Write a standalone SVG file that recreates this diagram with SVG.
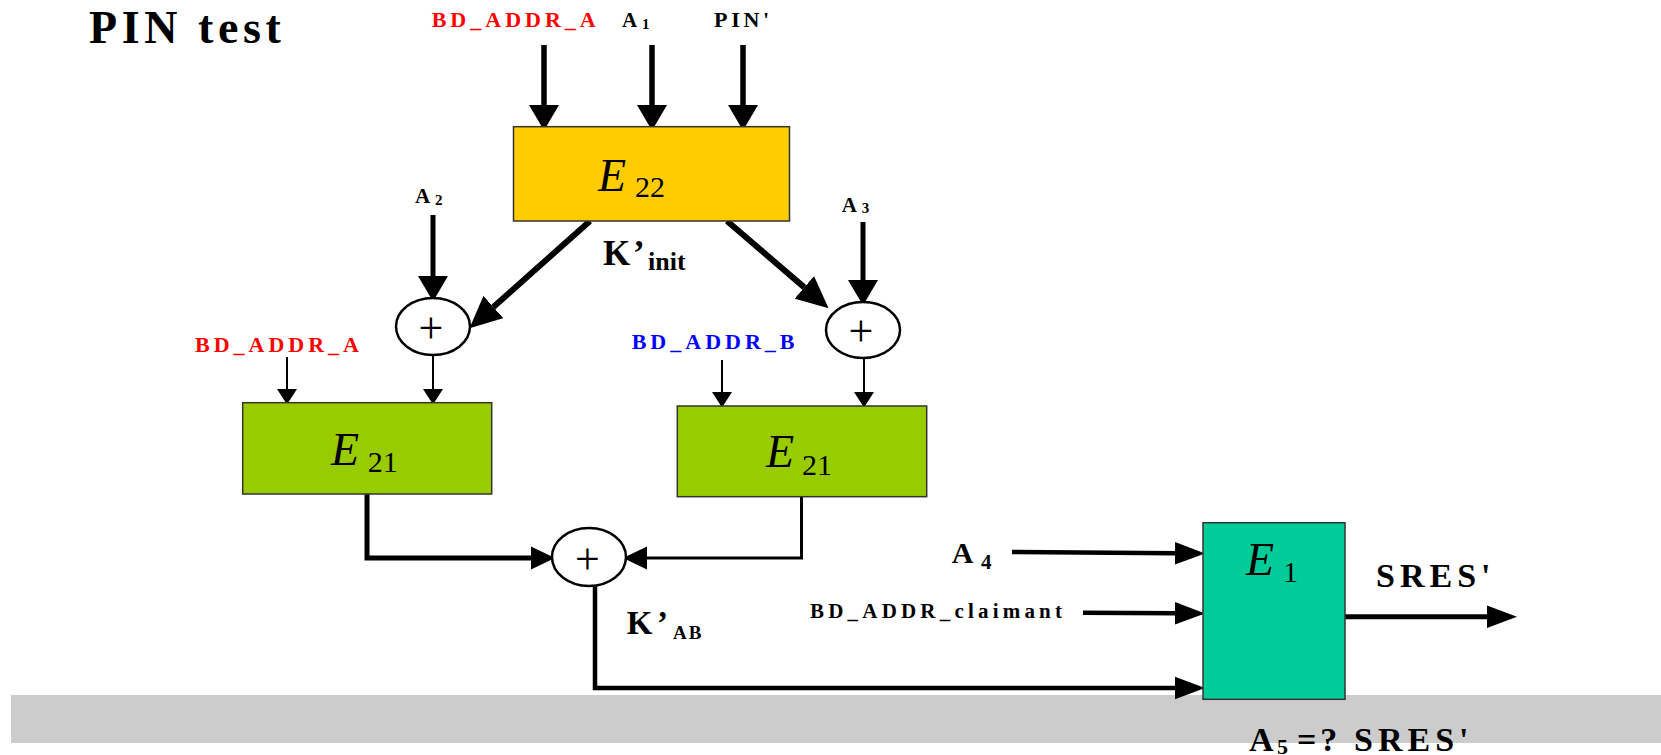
<svg xmlns="http://www.w3.org/2000/svg" width="1661" height="755" viewBox="0 0 1661 755">
<style>
text{font-family:"Liberation Serif","Times New Roman",serif;fill:#000}
.b{font-weight:bold}
.lab{font-weight:bold;font-size:22px;letter-spacing:4px}
.red{fill:#FF0000}
.blue{fill:#0000FF}
.ei{font-style:italic;font-size:46px}
.sub{font-size:30px}
.plus{font-size:44px;text-anchor:middle}
.box{stroke:#333;stroke-width:1.5}
.ring{fill:#fff;stroke:#000;stroke-width:2.5}
.c{fill:none;stroke:#000;stroke-linejoin:miter}
</style>
<defs>
<marker id="big" markerUnits="userSpaceOnUse" markerWidth="30" markerHeight="30" refX="0" refY="13" orient="auto" viewBox="0 0 22 26"><path d="M0,0 L22,13 L0,26 z" fill="#000"/></marker>
<marker id="diag" markerUnits="userSpaceOnUse" markerWidth="32" markerHeight="30" refX="0" refY="14" orient="auto" viewBox="0 0 30 28"><path d="M0,0 L30,14 L0,28 z" fill="#000"/></marker>
<marker id="thin" markerUnits="userSpaceOnUse" markerWidth="16" markerHeight="20" refX="0" refY="9" orient="auto" viewBox="0 0 14 18"><path d="M0,0 L14,9 L0,18 z" fill="#000"/></marker>
<marker id="med" markerUnits="userSpaceOnUse" markerWidth="24" markerHeight="24" refX="0" refY="10.5" orient="auto" viewBox="0 0 22 21"><path d="M0,0 L22,10.5 L0,21 z" fill="#000"/></marker>
<marker id="e1" markerUnits="userSpaceOnUse" markerWidth="30" markerHeight="24" refX="0" refY="10.5" orient="auto" viewBox="0 0 28 21"><path d="M0,0 L28,10.5 L0,21 z" fill="#000"/></marker>
</defs>

<rect id="band" x="11" y="695" width="1650" height="48" fill="#CCCCCC"/>

<text class="b" x="89" y="42.7" font-size="46" letter-spacing="4.6">PIN test</text>

<g id="connectors">
<line class="c" x1="544" y1="45" x2="544" y2="105" stroke-width="5.5" marker-end="url(#big)"/>
<line class="c" x1="652" y1="45" x2="652" y2="105" stroke-width="5.5" marker-end="url(#big)"/>
<line class="c" x1="743" y1="45" x2="743" y2="105" stroke-width="5.5" marker-end="url(#big)"/>
<line class="c" x1="433" y1="215" x2="433" y2="276" stroke-width="5" marker-end="url(#big)"/>
<line class="c" x1="863" y1="222" x2="863" y2="280" stroke-width="5" marker-end="url(#big)"/>
<line class="c" x1="590" y1="221" x2="493.4" y2="307" stroke-width="6" marker-end="url(#diag)"/>
<line class="c" x1="727" y1="221" x2="804.3" y2="287.4" stroke-width="6" marker-end="url(#diag)"/>
<line class="c" x1="287" y1="357" x2="287" y2="389" stroke-width="2" marker-end="url(#thin)"/>
<line class="c" x1="433" y1="355" x2="433" y2="389" stroke-width="2" marker-end="url(#thin)"/>
<line class="c" x1="722" y1="360" x2="722" y2="392" stroke-width="2" marker-end="url(#thin)"/>
<line class="c" x1="864" y1="358" x2="864" y2="392" stroke-width="2" marker-end="url(#thin)"/>
<path class="c" d="M367,494 V558 H531" stroke-width="5" marker-end="url(#med)"/>
<path class="c" d="M801.5,497 V558 H647" stroke-width="3" marker-end="url(#med)"/>
<path class="c" d="M595,582 V688 H1175" stroke-width="4.5" marker-end="url(#e1)"/>
<line class="c" x1="1012" y1="552" x2="1175" y2="553.3" stroke-width="4.5" marker-end="url(#e1)"/>
<line class="c" x1="1083" y1="612.7" x2="1175" y2="613.3" stroke-width="4.5" marker-end="url(#e1)"/>
<line class="c" x1="1345" y1="616.7" x2="1487" y2="616.7" stroke-width="5" marker-end="url(#e1)"/>
</g>

<g id="E22">
<rect class="box" x="513.5" y="126.7" width="276" height="94.3" fill="#FFCC00" stroke-width="1"/>
<text x="598" y="190.7"><tspan class="ei">E</tspan><tspan class="sub" x="635" y="196.7">22</tspan></text>
</g>

<g id="xorL">
<ellipse class="ring" cx="433" cy="326.5" rx="37" ry="28.5"/>
<text class="plus" x="431" y="343">+</text>
</g>
<g id="xorR">
<ellipse class="ring" cx="863" cy="330" rx="37" ry="28"/>
<text class="plus" x="861" y="346">+</text>
</g>

<g id="E21L">
<rect class="box" x="242.7" y="402.7" width="249" height="91.3" fill="#99CC00"/>
<text x="331" y="465"><tspan class="ei" font-size="45">E</tspan><tspan class="sub" x="367.7" y="471.7">21</tspan></text>
</g>
<g id="E21R">
<rect class="box" x="677.3" y="406" width="249.4" height="90.7" fill="#99CC00"/>
<text x="766" y="467"><tspan class="ei" font-size="45">E</tspan><tspan class="sub" x="802" y="475">21</tspan></text>
</g>

<g id="xorB">
<ellipse class="ring" cx="589" cy="557" rx="37" ry="29"/>
<text class="plus" x="587.5" y="574">+</text>
</g>

<g id="E1">
<rect class="box" x="1203" y="522.7" width="142" height="176.6" fill="#00CC99"/>
<text x="1246" y="575"><tspan class="ei" font-size="45">E</tspan><tspan class="sub" x="1283" y="581.7">1</tspan></text>
</g>

<g id="labels">
<text class="lab red" x="431.7" y="26.7">BD_ADDR_A</text>
<text class="b" x="622" y="27" font-size="21">A<tspan x="642" y="29" font-size="15">1</tspan></text>
<text class="b" x="714" y="27" font-size="22" letter-spacing="3.7">PIN'</text>
<text class="b" x="415" y="203" font-size="21">A<tspan x="435" y="205" font-size="15">2</tspan></text>
<text class="b" x="841.7" y="211.7" font-size="21">A<tspan x="861.7" y="213" font-size="15">3</tspan></text>
<text class="b" x="603" y="265" font-size="35">K<tspan x="633">’</tspan><tspan x="648" y="270" font-size="26">init</tspan></text>
<text class="lab red" x="195" y="351.7">BD_ADDR_A</text>
<text class="lab blue" x="631.7" y="349">BD_ADDR_B</text>
<text class="b" x="626.7" y="634" font-size="33">K<tspan x="657">’</tspan><tspan x="673" y="639.3" font-size="19" letter-spacing="2">AB</tspan></text>
<text class="b" x="951.7" y="563.3" font-size="30">A<tspan x="981" y="569.3" font-size="21">4</tspan></text>
<text class="b" x="810" y="618.3" font-size="21" letter-spacing="4.2">BD_ADDR_claimant</text>
<text class="b" x="1376" y="587.3" font-size="34" letter-spacing="5">SRES'</text>
<text class="b" x="1249" y="751" font-size="34">A<tspan x="1277" y="754" font-size="22">5</tspan><tspan x="1297" y="751" letter-spacing="4">=?</tspan><tspan x="1354" letter-spacing="5">SRES'</tspan></text>
</g>
</svg>
